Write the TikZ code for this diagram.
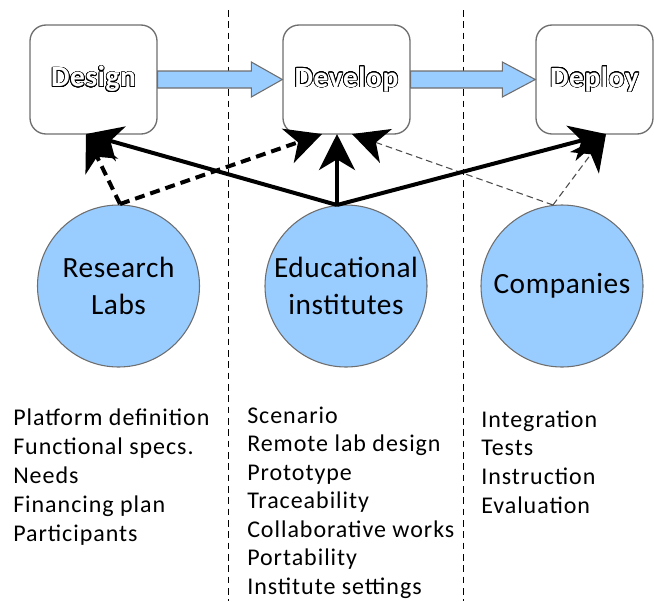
\documentclass[tikz,border=0pt]{standalone}
\usepackage{fontspec}
\setmainfont{Carlito}
\usepackage[copies]{contour}
\contourlength{0.55pt}
\contournumber{24}
\usetikzlibrary{arrows.meta,calc}
\definecolor{lblue}{HTML}{99CCFF}
\definecolor{edgegray}{HTML}{6E6E6E}
\newcommand\olabel[1]{\contour{black}{\textcolor{white}{#1}}}
\tikzset{
  stagebox/.style={draw=edgegray, line width=1pt, rounded corners=12pt, fill=white,
    minimum height=81.75pt, inner sep=0pt, font=\fontsize{22}{26}\selectfont\bfseries\addfontfeature{LetterSpace=2}},
  actor/.style={circle, draw=edgegray, line width=0.8pt, fill=lblue, minimum size=121.5pt,
    inner sep=0pt, align=center, font=\fontsize{22}{27.75}\selectfont\addfontfeature{LetterSpace=2}},
  blockarrow/.style={draw=edgegray, line width=0.8pt, fill=lblue},
  bigtip/.style={-{Stealth[length=27pt,width=27pt,inset=8pt,color=black]}},
  solidlink/.style={bigtip, line width=3pt},
  dashlink/.style={bigtip, line width=3pt, dash pattern=on 7.5pt off 4.5pt},
  thinlink/.style={bigtip, line width=0.8pt, draw=black!70, dash pattern=on 5pt off 3pt},
  separator/.style={line width=0.7pt, dash pattern=on 5pt off 3.5pt},
  item/.style={anchor=base west, inner sep=0pt, font=\fontsize{18}{20}\selectfont\addfontfeature{LetterSpace=4}}
}
\begin{document}
\begin{tikzpicture}[x=0.75pt,y=-0.75pt]
\useasboundingbox (0,0) rectangle (654,601);

% separators
\coordinate (s1t) at (228,10); \coordinate (s1b) at (228,601);
\coordinate (s2t) at (463,10); \coordinate (s2b) at (463,601);
\draw[separator] (s1t) -- (s1b);
\draw[separator] (s2t) -- (s2b);

% stage boxes
\node[stagebox, minimum width=95.25pt] (design) at (93.5,79.5) {\olabel{Design}};
\node[stagebox, minimum width=95.25pt] (develop) at (346.5,79.5) {\olabel{Develop}};
\node[stagebox, minimum width=87.75pt] (deploy) at (594.5,79.5) {\olabel{Deploy}};

% block arrows between stages
\draw[blockarrow] ($(design.east)+(0,-8.5)$) -- ($(develop.west)+(-31,-8.5)$) -- ($(develop.west)+(-31,-17.5)$)
  -- (develop.west) -- ($(develop.west)+(-31,17.5)$) -- ($(develop.west)+(-31,8.5)$) -- ($(design.east)+(0,8.5)$) -- cycle;
\draw[blockarrow] ($(develop.east)+(0,-8.5)$) -- ($(deploy.west)+(-33,-8.5)$) -- ($(deploy.west)+(-33,-17.5)$)
  -- (deploy.west) -- ($(deploy.west)+(-33,17.5)$) -- ($(deploy.west)+(-33,8.5)$) -- ($(develop.east)+(0,8.5)$) -- cycle;

% actors
\node[actor] (research) at (118.5,286) {Research\\Labs};
\node[actor] (edu) at (346,286) {Educational\\institutes};
\node[actor] (comp) at (562,286) {Companies};

% connection points
\coordinate (rtop) at (120,204);
\coordinate (etop) at (337,205);
\coordinate (ctop) at (553,205);
\coordinate (dsA) at (86,134);
\coordinate (dvA) at (322,134);
\coordinate (dvB) at (337,134);
\coordinate (dvC) at (352,134);
\coordinate (dpA) at (606,134);

% links
\draw[thinlink] (ctop) -- (dvC);
\draw[thinlink] (ctop) -- (dpA);
\draw[dashlink] (rtop) -- (dsA);
\draw[dashlink] (rtop) -- (dvA);
\draw[solidlink] (etop) -- (dsA);
\draw[solidlink] (etop) -- (dvB);
\draw[solidlink] (etop) -- (dpA);

% lists
\foreach \t [count=\i] in {Platform definition,Functional specs.,Needs,Financing plan,Participants}
  \node[item] (left\i) at (13,{425+29*(\i-1)}) {\t};
\foreach \t [count=\i] in {Scenario,Remote lab design,Prototype,Traceability,Collaborative works,Portability,Institute settings}
  \node[item] (mid\i) at (247,{423+28.5*(\i-1)}) {\t};
\foreach \t [count=\i] in {Integration,Tests,Instruction,Evaluation}
  \node[item] (right\i) at (481,{427+28.7*(\i-1)}) {\t};
\end{tikzpicture}
\end{document}
